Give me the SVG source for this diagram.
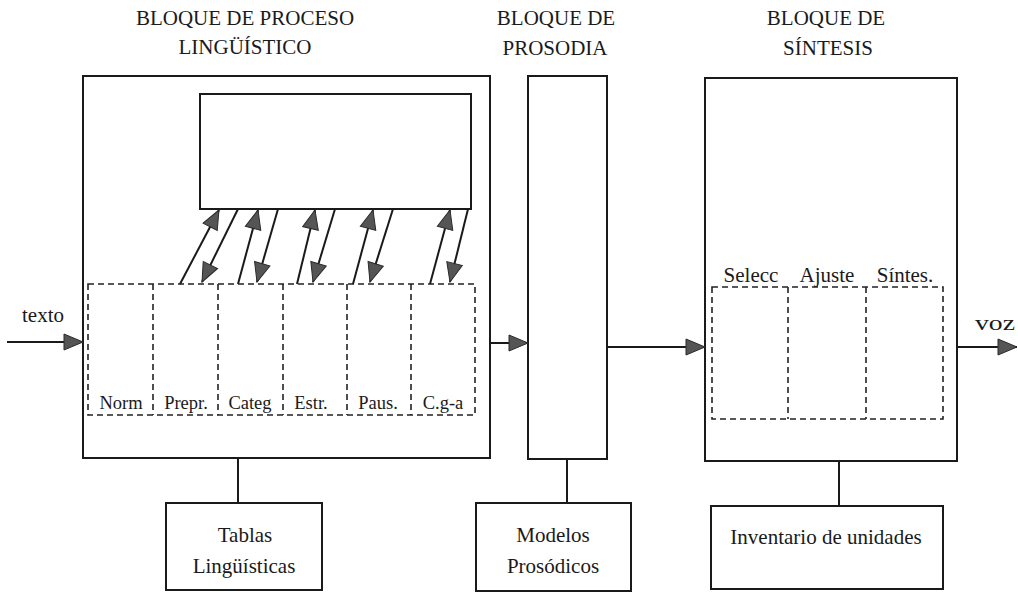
<svg xmlns="http://www.w3.org/2000/svg" width="1018" height="592" viewBox="0 0 1018 592">
  <style>
    .box{fill:none;stroke:#1a1a1a;stroke-width:2}
    .dash{fill:none;stroke:#222;stroke-width:1.6;stroke-dasharray:6 4}
    .wire{fill:none;stroke:#1a1a1a;stroke-width:2}
    .t{font-family:"Liberation Serif","Times New Roman",serif;fill:#1a1a1a;text-anchor:middle}
    .title{font-size:21px}
    .lab{font-size:18.5px}
    .lab2{font-size:21px}
  </style>
  <defs>
    <marker id="head" markerUnits="userSpaceOnUse" markerWidth="22" markerHeight="20" refX="19" refY="8" orient="auto" overflow="visible">
      <path d="M0,0 L19,8 L0,16 Z" fill="#555" stroke="#2a2a2a" stroke-width="1"/>
    </marker>
  </defs>
  <rect width="1018" height="592" fill="#fff"/>

  <!-- linguistic processing block -->
  <g id="bloque-linguistico">
    <text class="t title" x="245" y="25">BLOQUE DE PROCESO</text>
    <text class="t title" x="245" y="54">LINGÜÍSTICO</text>
    <rect class="box" x="83" y="76" width="407" height="382"/>
    <rect class="box" x="200" y="94" width="271" height="115"/>
    <rect class="dash" x="88" y="284" width="387" height="131"/>
    <path class="dash" d="M153,284V415 M218,284V415 M283,284V415 M347,284V415 M411,284V415"/>
    <g class="t lab">
      <text x="121" y="409">Norm</text>
      <text x="186" y="409">Prepr.</text>
      <text x="250" y="409">Categ</text>
      <text x="311" y="409">Estr.</text>
      <text x="378" y="409">Paus.</text>
      <text x="443" y="409">C.g-a</text>
    </g>
  </g>

  <!-- prosody block -->
  <g id="bloque-prosodia">
    <text class="t title" x="556" y="25">BLOQUE DE</text>
    <text class="t title" x="555" y="55">PROSODIA</text>
    <rect class="box" x="528" y="76" width="79" height="383"/>
  </g>

  <!-- synthesis block -->
  <g id="bloque-sintesis">
    <text class="t title" x="826" y="25">BLOQUE DE</text>
    <text class="t title" x="828" y="55">SÍNTESIS</text>
    <rect class="box" x="705" y="78" width="252" height="383"/>
    <rect class="dash" x="712" y="287" width="231" height="132"/>
    <path class="dash" d="M788,287V419 M866,287V419"/>
    <g class="t lab2">
      <text x="751" y="282">Selecc</text>
      <text x="827" y="282">Ajuste</text>
      <text x="905" y="282">Síntes.</text>
    </g>
  </g>

  <!-- resource boxes -->
  <g id="tablas">
    <rect class="box" x="166" y="503" width="156" height="87"/>
    <text class="t lab2" x="245" y="542">Tablas</text>
    <text class="t lab2" x="244" y="573">Lingüísticas</text>
  </g>
  <g id="modelos">
    <rect class="box" x="476" y="503" width="155" height="88"/>
    <text class="t lab2" x="553" y="542">Modelos</text>
    <text class="t lab2" x="553" y="573">Prosódicos</text>
  </g>
  <g id="inventario">
    <rect class="box" x="711" y="506" width="232" height="83"/>
    <text class="t lab2" x="826" y="544">Inventario de unidades</text>
  </g>

  <!-- input / output labels -->
  <g id="io-labels">
    <text class="t lab2" x="43" y="322">texto</text>
    <text class="t" x="995" y="330" font-size="22" textLength="40" lengthAdjust="spacingAndGlyphs">voz</text>
  </g>

  <!-- connectors -->
  <g id="connectors">
    <path class="wire" d="M238,458V503 M567,459V503 M839,461V506"/>
    <g class="wire" marker-end="url(#head)">
      <line x1="7" y1="342" x2="83" y2="342"/>
      <line x1="490" y1="343" x2="528" y2="343"/>
      <line x1="607" y1="347" x2="705" y2="347"/>
      <line x1="957" y1="347" x2="1017" y2="347"/>
      <!-- module to central store -->
      <line x1="180" y1="284" x2="219" y2="210"/>
      <line x1="238" y1="284" x2="258" y2="210"/>
      <line x1="297" y1="284" x2="315" y2="210"/>
      <line x1="353" y1="284" x2="373" y2="210"/>
      <line x1="430" y1="284" x2="450" y2="210"/>
      <!-- central store to module -->
      <line x1="238" y1="209" x2="202" y2="282"/>
      <line x1="278" y1="209" x2="257" y2="282"/>
      <line x1="335" y1="209" x2="313" y2="282"/>
      <line x1="393" y1="209" x2="370" y2="282"/>
      <line x1="468" y1="209" x2="450" y2="282"/>
    </g>
  </g>
</svg>
